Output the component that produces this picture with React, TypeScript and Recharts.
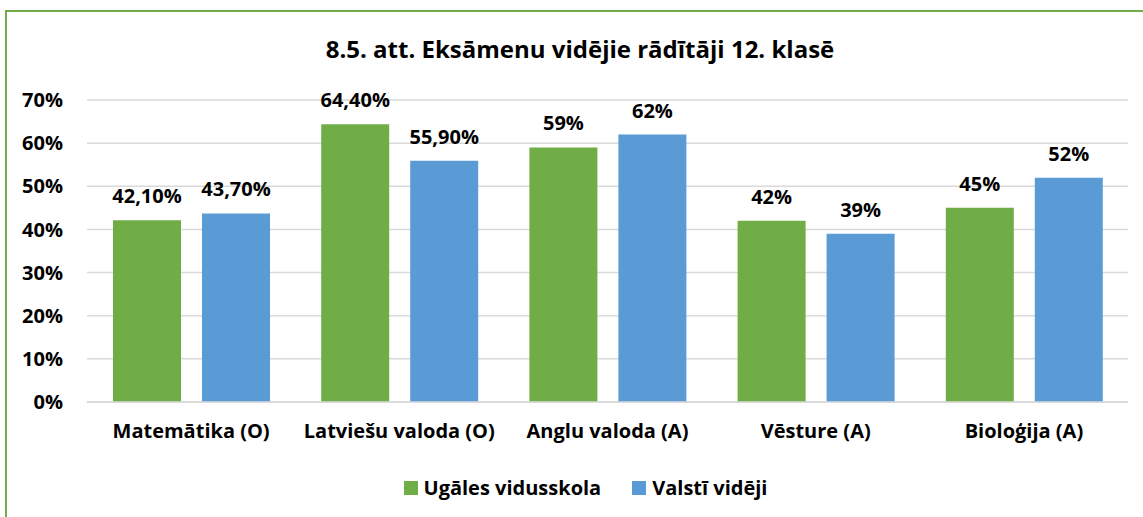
import React from "react";
import { BarChart, Bar, XAxis, YAxis, CartesianGrid, LabelList, Legend } from "recharts";

const categories = ["Matemātika (O)", "Latviešu valoda (O)", "Anglu valoda (A)", "Vēsture (A)", "Bioloģija (A)"];
const schoolValues = [42.1, 64.4, 59, 42, 45];
const countryValues = [43.7, 55.9, 62, 39, 52];
const schoolLabels = ["42,10%", "64,40%", "59%", "42%", "45%"];
const countryLabels = ["43,70%", "55,90%", "62%", "39%", "52%"];
const yTicks = [0, 10, 20, 30, 40, 50, 60, 70];
const seriesNames = ["Ugāles vidusskola", "Valstī vidēji"];
const title = "8.5. att. Eksāmenu vidējie rādītāji 12. klasē";

const GREEN = "#70AD47";
const BLUE = "#5B9BD5";
const FONT = "'Open Sans', sans-serif";

const data = categories.map((c, i) => ({
  name: c,
  school: schoolValues[i],
  country: countryValues[i],
  schoolLabel: schoolLabels[i],
  countryLabel: countryLabels[i],
}));

const LegendContent = () => (
  <div style={{ display: "flex", justifyContent: "center", alignItems: "center", fontFamily: FONT, fontWeight: 700, fontSize: 20, color: "#000" }}>
    {[GREEN, BLUE].map((col, i) => (
      <div key={i} style={{ display: "flex", alignItems: "center", marginRight: i === 0 ? 31 : 0 }}>
        <span style={{ display: "inline-block", width: 14, height: 14, background: col, marginRight: 6 }} />
        <span>{seriesNames[i]}</span>
      </div>
    ))}
  </div>
);

export default function App() {
  return (
    <div style={{ position: "absolute", left: 0, top: 0, width: 1143, height: 517, overflow: "hidden", background: "#fff" }}>
      <div style={{ position: "absolute", left: 5, top: 10, width: 1300, height: 700, border: `2px solid ${GREEN}`, boxSizing: "border-box" }} />
      <div style={{ position: "absolute", left: 0, top: 0 }}>
        <BarChart
          width={1143}
          height={517}
          data={data}
          margin={{ top: 100, right: 15, bottom: 65, left: 0 }}
          barSize={68}
          barGap={21}
        >
          <text x={580} y={58} textAnchor="middle" style={{ fontFamily: FONT, fontWeight: 700, fontSize: 24, fill: "#000" }}>
            {title}
          </text>
          <CartesianGrid vertical={false} stroke="#D9D9D9" strokeWidth={1.5} />
          <XAxis
            dataKey="name"
            axisLine={{ stroke: "#D9D9D9", strokeWidth: 1.5 }}
            tickLine={false}
            tickSize={0}
            tickMargin={22}
            height={50}
            interval={0}
            tick={{ fontFamily: FONT, fontWeight: 700, fontSize: 20, fill: "#000" }}
          />
          <YAxis
            domain={[0, 70]}
            ticks={yTicks}
            tickFormatter={(v: number) => `${v}%`}
            axisLine={false}
            tickLine={false}
            tickSize={0}
            tickMargin={24}
            width={87}
            tick={{ fontFamily: FONT, fontWeight: 700, fontSize: 20, fill: "#000" }}
          />
          <Legend
            verticalAlign="middle"
            align="center"
            layout="horizontal"
            wrapperStyle={{ top: 474, left: 14, width: 1143 }}
            content={<LegendContent />}
          />
          <Bar dataKey="school" name={seriesNames[0]} fill={GREEN} isAnimationActive={false}>
            <LabelList dataKey="schoolLabel" position="top" offset={17} style={{ fontFamily: FONT, fontWeight: 700, fontSize: 20, fill: "#000" }} />
          </Bar>
          <Bar dataKey="country" name={seriesNames[1]} fill={BLUE} isAnimationActive={false}>
            <LabelList dataKey="countryLabel" position="top" offset={17} style={{ fontFamily: FONT, fontWeight: 700, fontSize: 20, fill: "#000" }} />
          </Bar>
        </BarChart>
      </div>
    </div>
  );
}
